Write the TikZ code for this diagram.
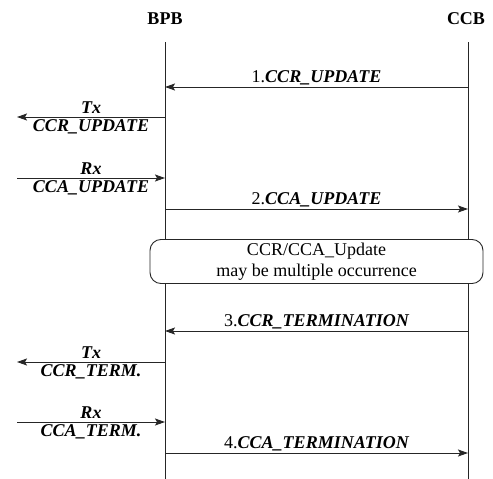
\documentclass[tikz,border=0pt]{standalone}
\usepackage{fontspec}
\setmainfont{Liberation Serif}
\usetikzlibrary{arrows.meta, positioning}

\begin{document}
\begin{tikzpicture}[
    x=1pt, y=1pt,
    font=\fontsize{18}{21}\selectfont,
    lifeline/.style={line width=0.9pt, draw=black!85},
    msg/.style={line width=0.9pt, draw=black!85, -{Stealth[length=10pt, width=7pt, inset=2pt]}},
    lbl/.style={font=\fontsize{18}{21}\selectfont\bfseries\itshape, inner sep=1.5pt},
    entity/.style={font=\fontsize{18}{21}\selectfont\bfseries},
    note/.style={rectangle, draw=black!85, line width=0.9pt, fill=white, rounded corners=11pt,
                 minimum width=333pt, minimum height=43pt, align=center}
]
\useasboundingbox (0,0) rectangle (493,-479);

% entities and lifelines
\node[entity] (bpb) at (165,-19) {BPB};
\node[entity] (ccb) at (466,-19) {CCB};
\coordinate (bpbtop) at (165,-42);
\coordinate (bpbend) at (165,-479);
\coordinate (ccbtop) at (468,-42);
\coordinate (ccbend) at (468,-479);
\draw[lifeline] (bpbtop) -- (bpbend);
\draw[lifeline] (ccbtop) -- (ccbend);

% points on the lifelines
\coordinate (b1) at (165,-87);   \coordinate (c1) at (468,-87);
\coordinate (b2) at (165,-117);  \coordinate (l2) at (17,-117);
\coordinate (b3) at (165,-178);  \coordinate (l3) at (17,-178);
\coordinate (b4) at (165,-209);  \coordinate (c4) at (468,-209);
\coordinate (b5) at (165,-331);  \coordinate (c5) at (468,-331);
\coordinate (b6) at (165,-362);  \coordinate (l6) at (17,-362);
\coordinate (b7) at (165,-422);  \coordinate (l7) at (17,-422);
\coordinate (b8) at (165,-453);  \coordinate (c8) at (468,-453);

% update phase
\draw[msg] (c1) -- node[lbl, midway, above] {\textup{\mdseries 1.}CCR\_UPDATE} (b1);
\draw[msg] (b2) -- node[lbl, midway, above=2pt] {Tx} node[lbl, midway, below=1pt] {CCR\_UPDATE} (l2);
\draw[msg] (l3) -- node[lbl, midway, above=2pt] {Rx} node[lbl, midway, below=1pt] {CCA\_UPDATE} (b3);
\draw[msg] (b4) -- node[lbl, midway, above] {\textup{\mdseries 2.}CCA\_UPDATE} (c4);

% repeated note
\node[note] (repeat) at (316.5,-261.5) {CCR/CCA\_Update\\may be multiple occurrence};

% termination phase
\draw[msg] (c5) -- node[lbl, midway, above] {\textup{\mdseries 3.}CCR\_TERMINATION} (b5);
\draw[msg] (b6) -- node[lbl, midway, above=2pt] {Tx} node[lbl, midway, below=1pt] {CCR\_TERM.} (l6);
\draw[msg] (l7) -- node[lbl, midway, above=2pt] {Rx} node[lbl, midway, below=1pt] {CCA\_TERM.} (b7);
\draw[msg] (b8) -- node[lbl, midway, above] {\textup{\mdseries 4.}CCA\_TERMINATION} (c8);
\end{tikzpicture}
\end{document}
